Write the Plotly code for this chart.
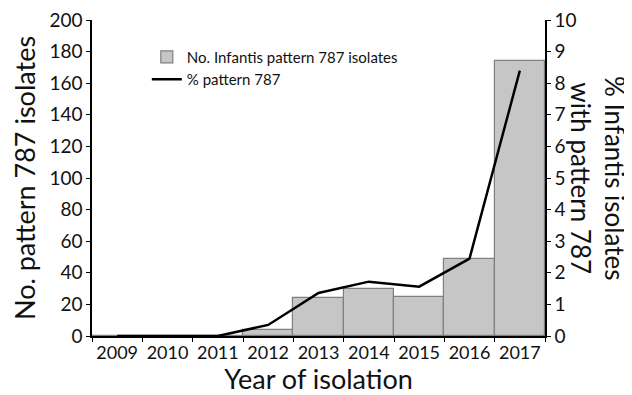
import plotly.graph_objects as go

years = ["2009", "2010", "2011", "2012", "2013", "2014", "2015", "2016", "2017"]
isolates = [0, 0, 0, 4, 24, 30, 25, 49, 174]
percent = [0, 0, 0, 0.35, 1.36, 1.72, 1.56, 2.45, 8.4]

FONT = "Lato"

fig = go.Figure()
fig.add_trace(go.Bar(
    x=years, y=isolates, name="No. Infantis pattern 787 isolates",
    marker=dict(color="#c6c6c6", line=dict(color="#7f7f7f", width=1.2)),
))
fig.add_trace(go.Scatter(
    x=years, y=percent, name="% pattern 787", yaxis="y2", mode="lines",
    line=dict(color="black", width=2.5),
))

# page body has an 8px margin, so the figure is drawn 8px right and down
fig.update_layout(
    width=624, height=387,
    margin=dict(l=84, r=87, t=12, b=59, autoexpand=False),
    paper_bgcolor="white", plot_bgcolor="white",
    bargap=0,
    font=dict(family=FONT, color="#111111"),
    showlegend=True,
    legend=dict(x=0.121, y=0.935, xanchor="left", yanchor="top",
                bgcolor="rgba(0,0,0,0)", font=dict(size=15, family=FONT),
                tracegroupgap=0, itemwidth=30),
    xaxis=dict(
        automargin=False, tickangle=0, layer="above traces",
        showline=True, linecolor="black", linewidth=1.5,
        ticks="outside", tickson="boundaries", ticklen=4, tickcolor="black",
        tickfont=dict(size=18, family=FONT),
        title=dict(text="Year of isolation", font=dict(size=27, family=FONT), standoff=7),
        showgrid=False,
    ),
    yaxis=dict(
        automargin=False, ticklabeloverflow="allow", layer="above traces",
        range=[0, 200], dtick=20, showline=True, linecolor="black", linewidth=1.5,
        ticks="outside", ticklen=4, tickcolor="black", showgrid=False, zeroline=False,
        tickfont=dict(size=19, family=FONT),
        title=dict(text="No. pattern 787 isolates", font=dict(size=27, family=FONT), standoff=8),
    ),
    yaxis2=dict(
        automargin=False, ticklabeloverflow="allow", layer="above traces",
        range=[0, 10], dtick=1, overlaying="y", side="right",
        showline=True, linecolor="black", linewidth=1.5,
        ticks="outside", ticklen=4, tickcolor="black", showgrid=False, zeroline=False,
        tickfont=dict(size=19, family=FONT),
    ),
    annotations=[dict(
        text="% Infantis isolates<br>with pattern 787", textangle=90,
        xref="paper", yref="paper", x=1.117, y=0.5, xanchor="center", yanchor="middle",
        showarrow=False, font=dict(size=26, family=FONT), align="center",
    )],
)

fig.write_html("out.html")
